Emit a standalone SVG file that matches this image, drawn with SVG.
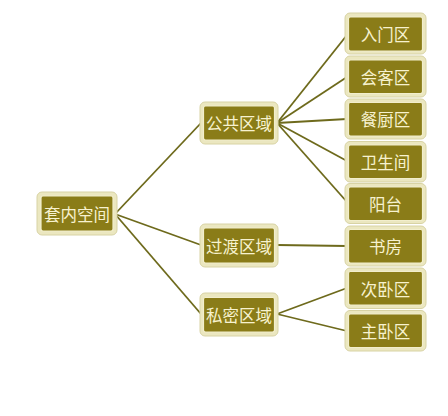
<svg xmlns="http://www.w3.org/2000/svg" width="448" height="416" viewBox="0 0 448 416">
<style>
.o{fill:#ebe7c0;stroke:#d8d3a4;stroke-width:1}
.i{fill:#8a7c18;stroke:#f2eecc;stroke-width:1.2}
.t{font-family:"Noto Sans CJK SC","Liberation Sans",sans-serif;font-size:16.5px;fill:#f7f2cf;text-anchor:middle;dominant-baseline:central}
.c line{stroke:#6e6a1c;stroke-width:1.8}
</style>
<rect width="448" height="416" fill="#ffffff"/>
<g class="c" id="connectors">
<line x1="115" y1="214" x2="201" y2="123"/>
<line x1="115" y1="214" x2="201" y2="245"/>
<line x1="115" y1="214" x2="201" y2="314"/>
<line x1="277" y1="123" x2="347" y2="35"/>
<line x1="277" y1="123" x2="347" y2="77"/>
<line x1="277" y1="123" x2="347" y2="119"/>
<line x1="277" y1="123" x2="347" y2="161"/>
<line x1="277" y1="123" x2="347" y2="202"/>
<line x1="277" y1="245" x2="347" y2="246"/>
<line x1="277" y1="314" x2="347" y2="288"/>
<line x1="277" y1="314" x2="347" y2="331"/>
</g>
<g id="n-root"><rect class="o" x="37" y="192" width="80" height="43" rx="5"/><rect class="i" x="41" y="196" width="72" height="35" rx="2"/><text class="t" x="77" y="213.5">套内空间</text></g>
<g id="n-public"><rect class="o" x="200" y="102" width="78" height="42" rx="5"/><rect class="i" x="203.5" y="106" width="71" height="34" rx="2"/><text class="t" x="239" y="123">公共区域</text></g>
<g id="n-transit"><rect class="o" x="200" y="224" width="78" height="43" rx="5"/><rect class="i" x="203.5" y="228" width="71" height="35" rx="2"/><text class="t" x="239" y="245.5">过渡区域</text></g>
<g id="n-private"><rect class="o" x="200" y="293" width="78" height="43" rx="5"/><rect class="i" x="203.5" y="297.5" width="71" height="34.5" rx="2"/><text class="t" x="239" y="314.5">私密区域</text></g>
<g id="n-entry"><rect class="o" x="345" y="13" width="81" height="41" rx="5"/><rect class="i" x="348.5" y="17" width="74" height="34" rx="2"/><text class="t" x="385.5" y="34">入门区</text></g>
<g id="n-living"><rect class="o" x="345" y="56" width="81" height="41" rx="5"/><rect class="i" x="348.5" y="60" width="74" height="33.5" rx="2"/><text class="t" x="385.5" y="76.5">会客区</text></g>
<g id="n-dining"><rect class="o" x="345" y="99" width="81" height="40" rx="5"/><rect class="i" x="348.5" y="102.5" width="74" height="33.5" rx="2"/><text class="t" x="385.5" y="119">餐厨区</text></g>
<g id="n-bath"><rect class="o" x="345" y="141.5" width="81" height="40.5" rx="5"/><rect class="i" x="348.5" y="145" width="74" height="33.5" rx="2"/><text class="t" x="385.5" y="161.5">卫生间</text></g>
<g id="n-balcony"><rect class="o" x="345" y="183.5" width="81" height="40" rx="5"/><rect class="i" x="348.5" y="187" width="74" height="33.5" rx="2"/><text class="t" x="385.5" y="203.5">阳台</text></g>
<g id="n-study"><rect class="o" x="345" y="226" width="81" height="40" rx="5"/><rect class="i" x="348.5" y="229.5" width="74" height="33.5" rx="2"/><text class="t" x="385.5" y="246">书房</text></g>
<g id="n-second"><rect class="o" x="345" y="268" width="81" height="40.5" rx="5"/><rect class="i" x="348.5" y="271.5" width="74" height="33.5" rx="2"/><text class="t" x="385.5" y="288.5">次卧区</text></g>
<g id="n-master"><rect class="o" x="345" y="310.5" width="81" height="40.5" rx="5"/><rect class="i" x="348.5" y="314" width="74" height="33.5" rx="2"/><text class="t" x="385.5" y="331">主卧区</text></g>
</svg>
